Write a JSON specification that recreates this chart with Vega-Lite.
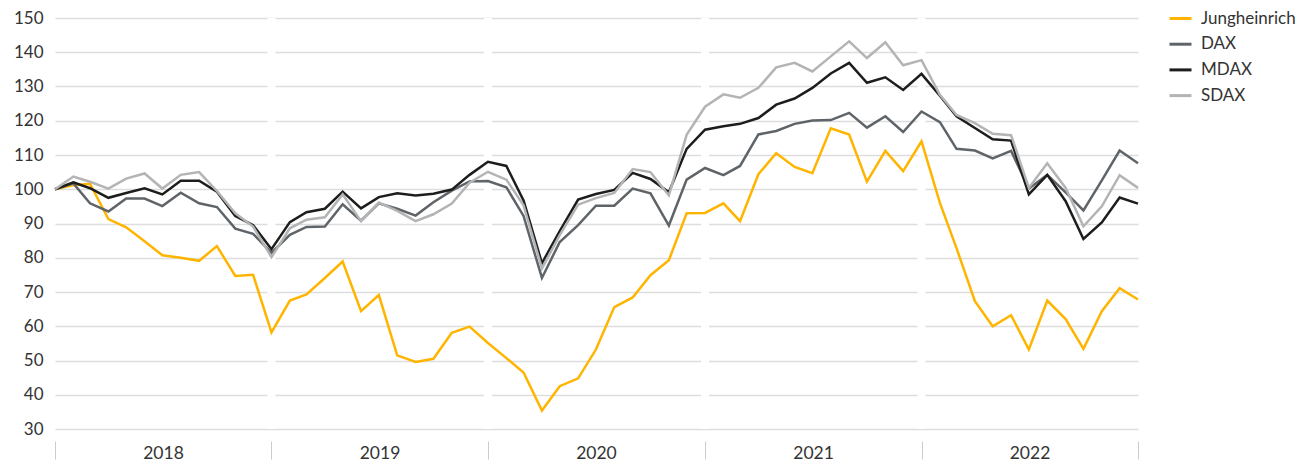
{
  "$schema": "https://vega.github.io/schema/vega-lite/v6.json",
  "width": 1083,
  "height": 411,
  "autosize": {"type": "none"},
  "padding": {"left": 55, "top": 18, "right": 159, "bottom": 43},
  "config": {"view": {"stroke": null}, "font": "Lato"},
  "datasets": {
    "years": [{"d": "2019-01-01"}, {"d": "2020-01-01"}, {"d": "2021-01-01"}, {"d": "2022-01-01"}],
    "prices": [
      {"d": "2018-01-01", "Jungheinrich": 100, "DAX": 100, "MDAX": 100, "SDAX": 100},
      {"d": "2018-02-01", "Jungheinrich": 101.2, "DAX": 101.7, "MDAX": 102.0, "SDAX": 103.7},
      {"d": "2018-03-01", "Jungheinrich": 101.6, "DAX": 95.9, "MDAX": 100.3, "SDAX": 102.2},
      {"d": "2018-04-01", "Jungheinrich": 91.3, "DAX": 93.5, "MDAX": 97.5, "SDAX": 100.2},
      {"d": "2018-05-01", "Jungheinrich": 88.9, "DAX": 97.3, "MDAX": 98.9, "SDAX": 103.1},
      {"d": "2018-06-01", "Jungheinrich": 84.8, "DAX": 97.3, "MDAX": 100.3, "SDAX": 104.6},
      {"d": "2018-07-01", "Jungheinrich": 80.7, "DAX": 95.1, "MDAX": 98.5, "SDAX": 100.2},
      {"d": "2018-08-01", "Jungheinrich": 80.0, "DAX": 99.0, "MDAX": 102.5, "SDAX": 104.2},
      {"d": "2018-09-01", "Jungheinrich": 79.1, "DAX": 95.9, "MDAX": 102.5, "SDAX": 105.0},
      {"d": "2018-10-01", "Jungheinrich": 83.4, "DAX": 94.8, "MDAX": 99.3, "SDAX": 99.5},
      {"d": "2018-11-01", "Jungheinrich": 74.7, "DAX": 88.5, "MDAX": 92.2, "SDAX": 93.0},
      {"d": "2018-12-01", "Jungheinrich": 75.0, "DAX": 87.0, "MDAX": 89.5, "SDAX": 89.1},
      {"d": "2019-01-01", "Jungheinrich": 58.2, "DAX": 81.4, "MDAX": 82.5, "SDAX": 80.2},
      {"d": "2019-02-01", "Jungheinrich": 67.5, "DAX": 86.7, "MDAX": 90.4, "SDAX": 88.6},
      {"d": "2019-03-01", "Jungheinrich": 69.3, "DAX": 89.0, "MDAX": 93.3, "SDAX": 91.1},
      {"d": "2019-04-01", "Jungheinrich": 74.1, "DAX": 89.1, "MDAX": 94.3, "SDAX": 91.8},
      {"d": "2019-05-01", "Jungheinrich": 78.9, "DAX": 95.6, "MDAX": 99.3, "SDAX": 98.5},
      {"d": "2019-06-01", "Jungheinrich": 64.4, "DAX": 90.8, "MDAX": 94.4, "SDAX": 90.7},
      {"d": "2019-07-01", "Jungheinrich": 69.1, "DAX": 95.9, "MDAX": 97.7, "SDAX": 96.1},
      {"d": "2019-08-01", "Jungheinrich": 51.5, "DAX": 94.3, "MDAX": 98.8, "SDAX": 93.7},
      {"d": "2019-09-01", "Jungheinrich": 49.6, "DAX": 92.3, "MDAX": 98.2, "SDAX": 90.7},
      {"d": "2019-10-01", "Jungheinrich": 50.5, "DAX": 96.2, "MDAX": 98.7, "SDAX": 92.7},
      {"d": "2019-11-01", "Jungheinrich": 58.1, "DAX": 99.6, "MDAX": 99.9, "SDAX": 95.8},
      {"d": "2019-12-01", "Jungheinrich": 59.9, "DAX": 102.3, "MDAX": 104.2, "SDAX": 101.9},
      {"d": "2020-01-01", "Jungheinrich": 55.1, "DAX": 102.4, "MDAX": 108.0, "SDAX": 105.1},
      {"d": "2020-02-01", "Jungheinrich": 50.7, "DAX": 100.6, "MDAX": 106.8, "SDAX": 102.8},
      {"d": "2020-03-01", "Jungheinrich": 46.5, "DAX": 92.2, "MDAX": 96.7, "SDAX": 95.3},
      {"d": "2020-04-01", "Jungheinrich": 35.4, "DAX": 74.1, "MDAX": 78.4, "SDAX": 76.9},
      {"d": "2020-05-01", "Jungheinrich": 42.5, "DAX": 84.6, "MDAX": 87.8, "SDAX": 86.6},
      {"d": "2020-06-01", "Jungheinrich": 44.8, "DAX": 89.5, "MDAX": 97.0, "SDAX": 95.5},
      {"d": "2020-07-01", "Jungheinrich": 53.2, "DAX": 95.2, "MDAX": 98.6, "SDAX": 97.4},
      {"d": "2020-08-01", "Jungheinrich": 65.6, "DAX": 95.2, "MDAX": 99.8, "SDAX": 98.9},
      {"d": "2020-09-01", "Jungheinrich": 68.4, "DAX": 100.2, "MDAX": 104.8, "SDAX": 105.9},
      {"d": "2020-10-01", "Jungheinrich": 74.9, "DAX": 98.8, "MDAX": 103.0, "SDAX": 105.0},
      {"d": "2020-11-01", "Jungheinrich": 79.3, "DAX": 89.4, "MDAX": 99.1, "SDAX": 98.2},
      {"d": "2020-12-01", "Jungheinrich": 93.0, "DAX": 102.8, "MDAX": 111.8, "SDAX": 115.9},
      {"d": "2021-01-01", "Jungheinrich": 93.1, "DAX": 106.2, "MDAX": 117.4, "SDAX": 124.1},
      {"d": "2021-02-01", "Jungheinrich": 95.9, "DAX": 104.1, "MDAX": 118.4, "SDAX": 127.7},
      {"d": "2021-03-01", "Jungheinrich": 90.7, "DAX": 106.8, "MDAX": 119.1, "SDAX": 126.7},
      {"d": "2021-04-01", "Jungheinrich": 104.4, "DAX": 116.0, "MDAX": 120.8, "SDAX": 129.6},
      {"d": "2021-05-01", "Jungheinrich": 110.5, "DAX": 117.0, "MDAX": 124.7, "SDAX": 135.6},
      {"d": "2021-06-01", "Jungheinrich": 106.5, "DAX": 119.1, "MDAX": 126.5, "SDAX": 136.9},
      {"d": "2021-07-01", "Jungheinrich": 104.7, "DAX": 120.1, "MDAX": 129.6, "SDAX": 134.4},
      {"d": "2021-08-01", "Jungheinrich": 117.8, "DAX": 120.2, "MDAX": 133.8, "SDAX": 138.8},
      {"d": "2021-09-01", "Jungheinrich": 116.0, "DAX": 122.3, "MDAX": 136.9, "SDAX": 143.2},
      {"d": "2021-10-01", "Jungheinrich": 102.2, "DAX": 118.0, "MDAX": 131.1, "SDAX": 138.3},
      {"d": "2021-11-01", "Jungheinrich": 111.2, "DAX": 121.3, "MDAX": 132.7, "SDAX": 142.9},
      {"d": "2021-12-01", "Jungheinrich": 105.3, "DAX": 116.7, "MDAX": 129.0, "SDAX": 136.2},
      {"d": "2022-01-01", "Jungheinrich": 114.0, "DAX": 122.7, "MDAX": 133.7, "SDAX": 137.7},
      {"d": "2022-02-01", "Jungheinrich": 96.0, "DAX": 119.6, "MDAX": 127.3, "SDAX": 127.6},
      {"d": "2022-03-01", "Jungheinrich": 82.8, "DAX": 111.8, "MDAX": 121.3, "SDAX": 121.7},
      {"d": "2022-04-01", "Jungheinrich": 67.3, "DAX": 111.3, "MDAX": 117.9, "SDAX": 119.3},
      {"d": "2022-05-01", "Jungheinrich": 60.0, "DAX": 109.0, "MDAX": 114.6, "SDAX": 116.2},
      {"d": "2022-06-01", "Jungheinrich": 63.2, "DAX": 111.2, "MDAX": 114.2, "SDAX": 115.8},
      {"d": "2022-07-01", "Jungheinrich": 53.2, "DAX": 100.2, "MDAX": 98.5, "SDAX": 100.4},
      {"d": "2022-08-01", "Jungheinrich": 67.5, "DAX": 104.2, "MDAX": 104.2, "SDAX": 107.6},
      {"d": "2022-09-01", "Jungheinrich": 62.1, "DAX": 99.1, "MDAX": 96.5, "SDAX": 100.4},
      {"d": "2022-10-01", "Jungheinrich": 53.4, "DAX": 93.8, "MDAX": 85.5, "SDAX": 89.2},
      {"d": "2022-11-01", "Jungheinrich": 64.4, "DAX": 102.6, "MDAX": 90.3, "SDAX": 95.0},
      {"d": "2022-12-01", "Jungheinrich": 71.1, "DAX": 111.3, "MDAX": 97.6, "SDAX": 104.1},
      {"d": "2023-01-01", "Jungheinrich": 67.8, "DAX": 107.6, "MDAX": 95.8, "SDAX": 100.4}
    ]
  },
  "encoding": {
    "x": {
      "field": "d",
      "type": "temporal",
      "title": null,
      "scale": {
        "type": "utc",
        "domain": [
          {"year": 2018, "month": 1, "date": 1, "utc": true},
          {"year": 2023, "month": 1, "date": 1, "utc": true}
        ]
      },
      "axis": {
        "values": [
          {"year": 2018, "month": 1, "date": 1, "utc": true},
          {"year": 2019, "month": 1, "date": 1, "utc": true},
          {"year": 2020, "month": 1, "date": 1, "utc": true},
          {"year": 2021, "month": 1, "date": 1, "utc": true},
          {"year": 2022, "month": 1, "date": 1, "utc": true},
          {"year": 2023, "month": 1, "date": 1, "utc": true}
        ],
        "labelExpr": "utcFormat(datum.value, '%Y') == '2023' ? '' : utcFormat(datum.value, '%Y')",
        "domain": false,
        "grid": false,
        "offset": 12,
        "ticks": true,
        "tickSize": 18,
        "tickColor": "#cccccc",
        "tickWidth": 1,
        "labelOffset": 108,
        "labelPadding": -6,
        "labelBaseline": "middle",
        "labelAlign": "center",
        "labelFlush": false,
        "labelOverlap": false,
        "labelBound": false,
        "labelFontSize": 17.5,
        "labelColor": "#333333"
      }
    }
  },
  "layer": [
    {
      "data": {"name": "years"},
      "mark": {"type": "rule", "color": "#ffffff", "strokeWidth": 8},
      "encoding": {}
    },
    {
      "data": {"name": "prices"},
      "transform": [{"fold": ["Jungheinrich", "DAX", "MDAX", "SDAX"], "as": ["series", "value"]}],
      "mark": {"type": "line", "strokeWidth": 2.5},
      "encoding": {
        "y": {
          "field": "value",
          "type": "quantitative",
          "title": null,
          "scale": {"domain": [30, 150], "nice": false, "zero": false},
          "axis": {
            "values": [30, 40, 50, 60, 70, 80, 90, 100, 110, 120, 130, 140, 150],
            "domain": false,
            "ticks": false,
            "grid": true,
            "gridColor": "#dddddd",
            "gridWidth": 1.5,
            "labelPadding": 12,
            "labelFontSize": 17,
            "labelColor": "#333333"
          }
        },
        "color": {
          "field": "series",
          "type": "nominal",
          "scale": {
            "domain": ["Jungheinrich", "DAX", "MDAX", "SDAX"],
            "range": ["#FFB500", "#5F6469", "#1D1D1B", "#B2B4B6"]
          },
          "legend": {
            "orient": "none",
            "legendX": 1113,
            "legendY": -12,
            "title": null,
            "symbolType": "stroke",
            "symbolSize": 484,
            "symbolStrokeWidth": 3,
            "labelFontSize": 17,
            "labelColor": "#333333",
            "labelOffset": 8,
            "rowPadding": 4.7
          }
        }
      }
    }
  ]
}
